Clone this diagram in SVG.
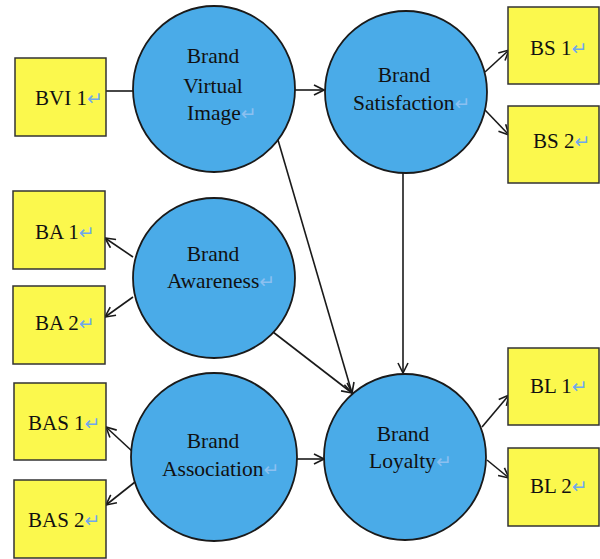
<svg xmlns="http://www.w3.org/2000/svg" width="600" height="559" viewBox="0 0 600 559">
<defs>
<style>
.box{fill:#fbf84d;stroke:#333;stroke-width:1.5}
.cir{fill:#4aabe8;stroke:#1a1a1a;stroke-width:1.8}
.t{font-family:"Liberation Serif",serif;font-size:21px;fill:#111}
.ct{font-family:"Liberation Serif",serif;font-size:21.5px;fill:#111;text-anchor:middle}
.cs{font-family:"Liberation Serif",serif;font-size:21.5px;fill:#111}
.r{font-family:"DejaVu Sans",sans-serif;font-size:19px;fill:#6fa8ec}
.rc{font-family:"DejaVu Sans",sans-serif;font-size:19px;fill:#8cc0f0}
.c{stroke:#1a1a1a;stroke-width:1.6;fill:none}
</style>
<marker id="ah" viewBox="0 0 12 12" refX="11" refY="6" markerWidth="12" markerHeight="12" markerUnits="userSpaceOnUse" orient="auto">
<path d="M1,1 L11,6 L1,11" fill="none" stroke="#1a1a1a" stroke-width="1.6"/>
</marker>
</defs>
<rect width="600" height="559" fill="#fff"/>
<g id="connectors">
<line class="c" x1="106" y1="91" x2="133" y2="91"/>
<line class="c" x1="295" y1="90" x2="324" y2="90" marker-end="url(#ah)"/>
<line class="c" x1="485" y1="72" x2="509" y2="50" marker-end="url(#ah)"/>
<line class="c" x1="485" y1="110" x2="509" y2="135" marker-end="url(#ah)"/>
<line class="c" x1="403" y1="173" x2="403" y2="373" marker-end="url(#ah)"/>
<line class="c" x1="278" y1="140" x2="352" y2="393" marker-end="url(#ah)"/>
<line class="c" x1="273" y1="332" x2="352" y2="393" marker-end="url(#ah)"/>
<line class="c" x1="297" y1="459" x2="324" y2="459" marker-end="url(#ah)"/>
<line class="c" x1="133" y1="257" x2="105" y2="238" marker-end="url(#ah)"/>
<line class="c" x1="133" y1="297" x2="105" y2="317" marker-end="url(#ah)"/>
<line class="c" x1="133" y1="452" x2="106" y2="427" marker-end="url(#ah)"/>
<line class="c" x1="135" y1="482" x2="106" y2="505" marker-end="url(#ah)"/>
<line class="c" x1="482" y1="427" x2="509" y2="395" marker-end="url(#ah)"/>
<line class="c" x1="487" y1="460" x2="509" y2="478" marker-end="url(#ah)"/>
</g>
<g id="bvi"><ellipse class="cir" cx="214" cy="89" rx="81" ry="83"/>
<text class="ct" x="213" y="63">Brand</text><text class="ct" x="213" y="93">Virtual</text><text class="cs" x="187" y="120">Image<tspan class="rc">↵</tspan></text></g>
<g id="bs"><ellipse class="cir" cx="406" cy="92" rx="81" ry="81"/>
<text class="ct" x="404" y="82">Brand</text><text class="cs" x="353" y="110">Satisfaction<tspan class="rc">↵</tspan></text></g>
<g id="ba"><ellipse class="cir" cx="214" cy="278" rx="81" ry="80"/>
<text class="ct" x="213" y="261">Brand</text><text class="cs" x="167" y="288">Awareness<tspan class="rc">↵</tspan></text></g>
<g id="bas"><ellipse class="cir" cx="214" cy="457" rx="83" ry="84"/>
<text class="ct" x="213" y="448">Brand</text><text class="cs" x="162" y="476">Association<tspan class="rc">↵</tspan></text></g>
<g id="bl"><ellipse class="cir" cx="405" cy="457" rx="81" ry="83"/>
<text class="ct" x="403" y="441">Brand</text><text class="cs" x="369" y="468">Loyalty<tspan class="rc">↵</tspan></text></g>
<g id="bvi1"><rect class="box" x="15" y="58" width="91" height="78"/><text class="t" x="35" y="105">BVI 1<tspan class="r">↵</tspan></text></g>
<g id="bs1"><rect class="box" x="508" y="7" width="91" height="77"/><text class="t" x="530" y="55">BS 1<tspan class="r">↵</tspan></text></g>
<g id="bs2"><rect class="box" x="508" y="106" width="91" height="77"/><text class="t" x="533" y="148">BS 2<tspan class="r">↵</tspan></text></g>
<g id="ba1"><rect class="box" x="13" y="191" width="92" height="78"/><text class="t" x="35" y="239">BA 1<tspan class="r">↵</tspan></text></g>
<g id="ba2"><rect class="box" x="13" y="286" width="92" height="78"/><text class="t" x="35" y="330">BA 2<tspan class="r">↵</tspan></text></g>
<g id="bas1"><rect class="box" x="14" y="383" width="92" height="77"/><text class="t" x="28" y="430">BAS 1<tspan class="r">↵</tspan></text></g>
<g id="bas2"><rect class="box" x="14" y="480" width="92" height="78"/><text class="t" x="28" y="527">BAS 2<tspan class="r">↵</tspan></text></g>
<g id="bl1"><rect class="box" x="508" y="348" width="91" height="77"/><text class="t" x="530" y="393">BL 1<tspan class="r">↵</tspan></text></g>
<g id="bl2"><rect class="box" x="508" y="448" width="91" height="78"/><text class="t" x="530" y="493">BL 2<tspan class="r">↵</tspan></text></g>
</svg>
